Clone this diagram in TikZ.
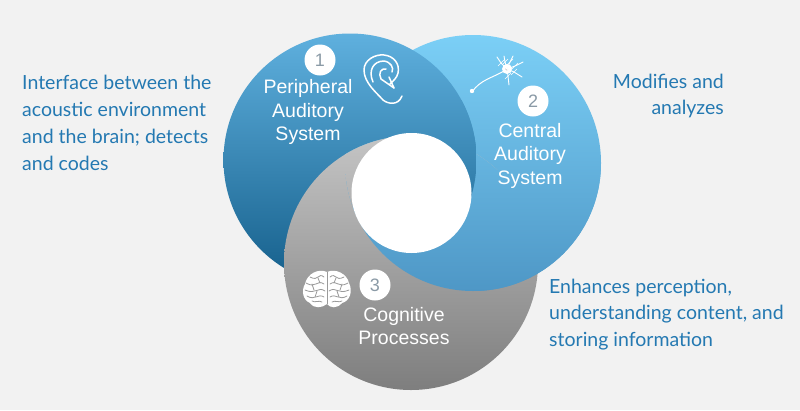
\documentclass[tikz,border=0pt]{standalone}
\usepackage{fontspec}
\setmainfont{Lato}
\newfontfamily\labelfont{Liberation Sans}
\definecolor{pagebg}{HTML}{F2F2F2}
\definecolor{sidetextblue}{HTML}{2479B2}
\definecolor{numgray}{HTML}{8A9AA6}
\definecolor{iconline}{HTML}{9A9A9A}
\definecolor{onetop}{HTML}{5FB0DE}
\definecolor{onebot}{HTML}{145E8A}
\definecolor{twotop}{HTML}{7BCFF6}
\definecolor{twobot}{HTML}{4E97C6}
\definecolor{threetop}{HTML}{C4C4C4}
\definecolor{threebot}{HTML}{7E7E7E}
\newcommand{\ringone}{(350,160) circle (126.5)}
\newcommand{\ringtwo}{(473,163) circle (128)}
\newcommand{\ringthree}{(411,263) circle (127)}
\tikzset{
  ringonefill/.style={top color=onetop, bottom color=onebot},
  ringtwofill/.style={top color=twotop, bottom color=twobot},
  ringthreefill/.style={top color=threetop, bottom color=threebot},
  sidetext/.style={text=sidetextblue, font=\fontsize{19.5}{26.8}\selectfont, inner sep=0pt},
  ringlabel/.style={text=white, align=center, inner sep=0pt,
    font=\labelfont\fontsize{19.5}{23.5}\selectfont},
  numdot/.style={circle, fill=white, minimum size=31pt, inner sep=0pt,
    text=numgray, font=\labelfont\fontsize{18}{20}\selectfont},
  iconstroke/.style={draw=white, line width=1.5pt, line cap=round, line join=round},
  brainstroke/.style={draw=iconline, line width=.8pt, line cap=round},
}
\begin{document}
\begin{tikzpicture}[x=1pt, y=-1pt]
  \useasboundingbox[fill=pagebg] (0,0) rectangle (800,410);
  % rings
  \shade[ringtwofill] \ringtwo;
  \shade[ringonefill] \ringone;
  \shade[ringthreefill] \ringthree;
  \begin{scope}
    \clip \ringthree;
    \shade[ringtwofill] \ringtwo;
  \end{scope}
  \begin{scope}
    \clip (480,170) rectangle (610,300);
    \shade[ringtwofill] \ringtwo;
  \end{scope}
  % overlap of all three
  \begin{scope}
    \clip \ringone;
    \clip \ringtwo;
    \clip (300,100) rectangle (411,206);
    \shade[ringthreefill] \ringthree;
  \end{scope}
  \begin{scope}
    \clip \ringtwo;
    \clip (411,100) rectangle (500,205);
    \shade[ringonefill] \ringone;
  \end{scope}
  \fill[white] (411.5,193) circle (60);
  % numbers
  \node[numdot] (numone) at (320,60) {1};
  \node[numdot] (numtwo) at (533,101) {2};
  \node[numdot] (numthree) at (375,285) {3};
  % ring labels
  \node[ringlabel] (periph) at (308,112) {Peripheral\\Auditory\\System};
  \node[ringlabel] (central) at (530,155.5) {Central\\Auditory\\System};
  \node[ringlabel] (cognitive) at (404,326) {Cognitive\\Processes};
  % side texts
  \node[sidetext, align=left, anchor=west] (interface) at (22,123)
    {Interface between the\\acoustic environment\\and the brain; detects\\and codes};
  \node[sidetext, align=right, anchor=east] (modifies) at (724,96) {Modifies and\\analyzes};
  \node[sidetext, align=left, anchor=west] (enhances) at (549,314.5)
    {Enhances perception,\\understanding content, and\\storing information};
  % ear
  \draw[iconstroke] (402,96) .. controls (398,106) and (388,104) .. (383,100)
    .. controls (377,93) and (364,83) .. (364,70) .. controls (364,60) and (375,54) .. (384,55)
    .. controls (394,56) and (400,64) .. (398,73) .. controls (397,78) and (393,81) .. (390,84);
  \draw[iconstroke] (373,82) .. controls (368,71) and (373,61) .. (384,61)
    .. controls (391,62) and (394,68) .. (392,72);
  \draw[iconstroke] (394,88) -- (381,79) .. controls (378,73) and (381,68) .. (386,69);
  \draw[iconstroke] (394,88) -- (389,77);
  % neuron
  \draw[iconstroke, line width=1pt] (472,92) .. controls (480,80) and (492,78) .. (504,71);
  \fill[white] (472,91) circle (2.2);
  \fill[white] (507,69) circle (5);
  \fill[iconline] (507,69) circle (1.6);
  \foreach \tipx/\tipy/\midx/\midy in {497/57/501/63, 504/56/505/62, 513/56/510/62, 523/62/515/66, 522/77/514/72, 509/85/508/76}{
    \draw[iconstroke, line width=.9pt] (507,69) -- (\midx,\midy) -- (\tipx,\tipy);
    \draw[iconstroke, line width=.6pt] (\midx,\midy) -- ++(3,-3);
    \draw[iconstroke, line width=.6pt] (\midx,\midy) -- ++(-3,3);
  }
  % brain
  \fill[white] (327,272) .. controls (336,268) and (347,274) .. (349,283)
    .. controls (353,291) and (350,301) .. (342,303) .. controls (337,309) and (330,308) .. (327,304)
    .. controls (322,308) and (314,309) .. (310,303) .. controls (303,300) and (301,291) .. (305,284)
    .. controls (307,274) and (318,268) .. (327,272) -- cycle;
  \draw[brainstroke] (327,272) -- (327,304);
  \foreach \sgn in {-1,1}{
    \begin{scope}[shift={(327,0)}, xscale=\sgn]
      \draw[brainstroke] (3,277) .. controls (9,272) and (8,282) .. (17,277);
      \draw[brainstroke] (3,284) .. controls (10,279) and (11,289) .. (21,283);
      \draw[brainstroke] (2,291) .. controls (9,286) and (11,295) .. (22,290);
      \draw[brainstroke] (3,297) .. controls (9,293) and (12,301) .. (20,296);
      \draw[brainstroke] (5,302) .. controls (8,300) and (12,303) .. (15,301);
      \draw[brainstroke] (9,278) -- (7,283);
      \draw[brainstroke] (15,284) -- (13,290);
      \draw[brainstroke] (10,291) -- (12,297);
    \end{scope}
  }
\end{tikzpicture}
\end{document}
